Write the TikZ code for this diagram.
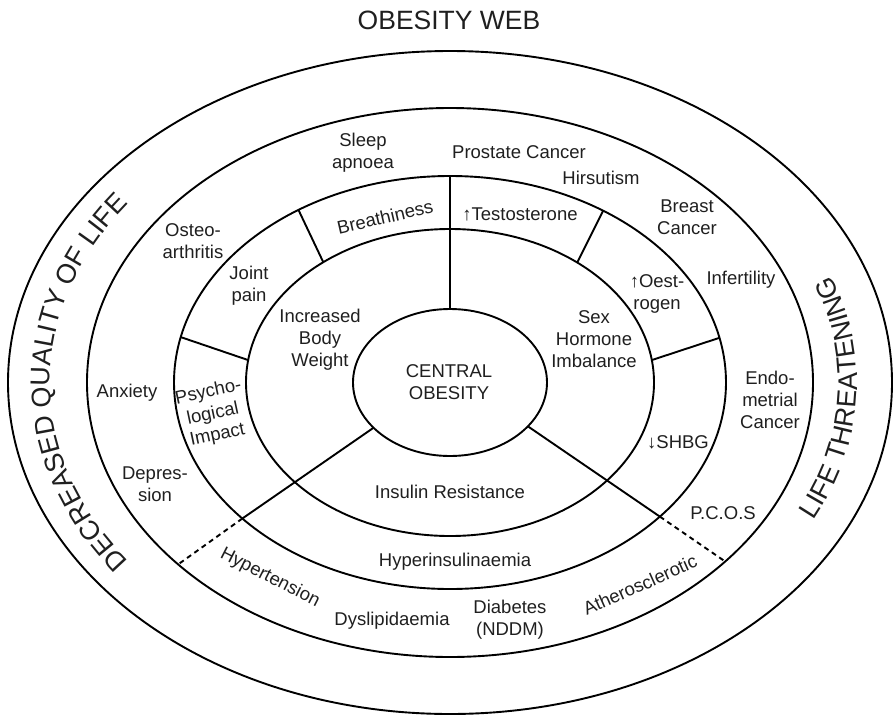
\documentclass[tikz,border=0pt]{standalone}
\usepackage{fontspec}
\setmainfont{Liberation Sans}
\usetikzlibrary{calc,decorations.text}
\begin{document}
\begin{tikzpicture}[x=1pt,y=-1pt,
  ring/.style={draw=black, line width=1.9pt},
  divider/.style={draw=black, line width=1.9pt},
  dashdiv/.style={draw=black, line width=1.9pt, dash pattern=on 5pt off 4pt},
  lbl/.style={font=\fontsize{18.5}{22}\selectfont, align=center, inner sep=0pt, text=black!88},
  titlelbl/.style={font=\fontsize{26.5}{30}\selectfont, inner sep=0pt, text=black!88},
  curvedtext/.style={decorate, decoration={text along path, text align=center, text color=black!88}}
]
\useasboundingbox (0,0) rectangle (894,715);
\coordinate (C) at (450,382.5);

% rings
\draw[ring] (C) ellipse [x radius=442, y radius=331.5];
\draw[ring] (C) ellipse [x radius=363, y radius=274.5];
\draw[ring] (C) ellipse [x radius=276, y radius=206.5];
\draw[ring] (C) ellipse [x radius=204, y radius=153.5];
\draw[ring] (C) ellipse [x radius=97, y radius=73.5];

% points on rings
\coordinate (vTop) at ($(C)+(-90:276 and 206.5)$);
\coordinate (vBot) at ($(C)+(-90:97 and 73.5)$);
\coordinate (bA) at ($(C)+(236.7:276 and 206.5)$);
\coordinate (bB) at ($(C)+(231.6:204 and 153.5)$);
\coordinate (tA) at ($(C)+(-56.3:276 and 206.5)$);
\coordinate (tB) at ($(C)+(-51.4:204 and 153.5)$);
\coordinate (lA) at ($(C)+(192.7:276 and 206.5)$);
\coordinate (lB) at ($(C)+(188.4:204 and 153.5)$);
\coordinate (rA) at ($(C)+(-12.5:276 and 206.5)$);
\coordinate (rB) at ($(C)+(-8.4:204 and 153.5)$);
\coordinate (llIn) at ($(C)+(142:97 and 73.5)$);
\coordinate (llMid) at ($(C)+(138.8:276 and 206.5)$);
\coordinate (llOut) at ($(C)+(138.5:363 and 274.5)$);
\coordinate (lrIn) at ($(C)+(36.6:97 and 73.5)$);
\coordinate (lrMid) at ($(C)+(40.5:276 and 206.5)$);
\coordinate (lrOut) at ($(C)+(40.7:363 and 274.5)$);

% dividers
\draw[divider] (vTop) -- (vBot);
\draw[divider] (bA) -- (bB);
\draw[divider] (tA) -- (tB);
\draw[divider] (lA) -- (lB);
\draw[divider] (rA) -- (rB);
\draw[divider] (llIn) -- (llMid);
\draw[dashdiv] (llMid) -- (llOut);
\draw[divider] (lrIn) -- (lrMid);
\draw[dashdiv] (lrMid) -- (lrOut);

% curved texts
\path[curvedtext, decoration={text={|\fontsize{27}{30}\selectfont|DECREASED QUALITY OF LIFE}}]
  ([shift={(134:400 and 300)}]C) arc[start angle=134, end angle=226, x radius=400, y radius=300];
\path[curvedtext, decoration={text={|\fontsize{27}{30}\selectfont|LIFE THREATENING}}]
  ([shift={(33:407 and 306)}]C) arc[start angle=33, end angle=-27, x radius=407, y radius=306];

% labels
\node[titlelbl] (title) at (449,20) {OBESITY WEB};
\node[lbl] (sleep) at (363,153) {Sleep\\apnoea};
\node[lbl] (prost) at (519,152) {Prostate Cancer};
\node[lbl] (hirs) at (601,178) {Hirsutism};
\node[lbl] (breast) at (687,217) {Breast\\Cancer};
\node[lbl] (infert) at (741,280) {Infertility};
\node[lbl] (endo) at (770,400) {Endo-\\metrial\\Cancer};
\node[lbl] (pcos) at (723,513) {P.C.O.S};
\node[lbl, rotate=24] (ather) at (640,585) {Atherosclerotic};
\node[lbl] (diab) at (510,620) {Diabetes\\(NDDM)};
\node[lbl] (dysl) at (392,621) {Dyslipidaemia};
\node[lbl, rotate=-27] (hyper) at (270,578) {Hypertension};
\node[lbl] (hins) at (455,562) {Hyperinsulinaemia};
\node[lbl] (insr) at (450,492) {Insulin Resistance};
\node[lbl] (ibw) at (320,340) {Increased\\Body\\Weight};
\node[lbl] (co) at (449,382) {CENTRAL\\OBESITY};
\node[lbl] (shi) at (594,339) {Sex\\Hormone\\Imbalance};
\node[lbl, rotate=13] (breath) at (385,217) {Breathiness};
\node[lbl] (testo) at (520,214) {↑Testosterone};
\node[lbl] (joint) at (249,286) {Joint\\pain};
\node[lbl] (osteo) at (193,241) {Osteo-\\arthritis};
\node[lbl] (oest) at (657,294) {↑Oest-\\rogen};
\node[lbl] (shbg) at (678,442) {↓SHBG};
\node[lbl, rotate=12] (psych) at (213,414) {Psycho-\\logical\\Impact};
\node[lbl] (anx) at (127,393) {Anxiety};
\node[lbl] (dep) at (155,484) {Depres-\\sion};
\end{tikzpicture}
\end{document}
